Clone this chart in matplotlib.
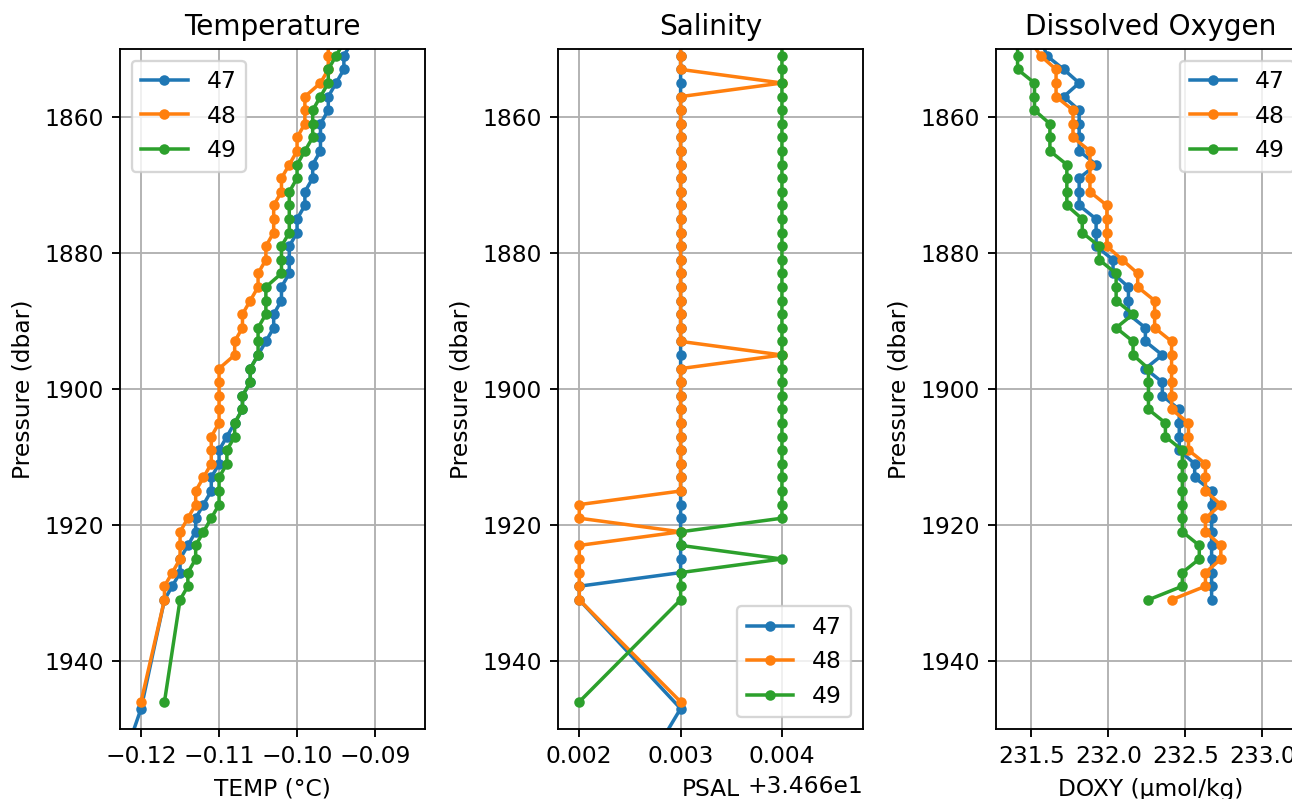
import matplotlib
matplotlib.use("Agg")
import matplotlib.pyplot as plt
from matplotlib.ticker import MultipleLocator
import numpy as np

# pressure levels (dbar) shared by the three profiles, plus one level above the view
pres_common = [1849, 1851, 1853, 1855, 1857, 1859, 1861, 1863, 1865, 1867, 1869,
               1871, 1873, 1875, 1877, 1879, 1881, 1883, 1885, 1887, 1889,
               1891, 1893, 1895, 1897, 1899, 1901, 1903, 1905, 1907, 1909,
               1911, 1913, 1915, 1917, 1919, 1921, 1923, 1925, 1927, 1929, 1931]
pres_47 = pres_common + [1947, 1952]
pres_48 = pres_common + [1946]
pres_49 = pres_common + [1946]

temp_47 = [-0.093, -0.094, -0.094, -0.095, -0.096, -0.096, -0.097, -0.097, -0.097, -0.098, -0.098,
           -0.099, -0.099, -0.100, -0.100, -0.101, -0.101, -0.101, -0.102, -0.102, -0.103,
           -0.103, -0.104, -0.105, -0.106, -0.106, -0.107, -0.107, -0.108, -0.109, -0.110,
           -0.110, -0.111, -0.111, -0.112, -0.113, -0.113, -0.114, -0.115, -0.115, -0.116, -0.117,
           -0.120, -0.1215]
temp_48 = [-0.096, -0.096, -0.096, -0.097, -0.099, -0.099, -0.099, -0.100, -0.100, -0.101, -0.102,
           -0.102, -0.103, -0.103, -0.103, -0.104, -0.104, -0.105, -0.105, -0.106, -0.107,
           -0.107, -0.108, -0.108, -0.110, -0.110, -0.110, -0.110, -0.110, -0.111, -0.111,
           -0.111, -0.112, -0.113, -0.113, -0.114, -0.115, -0.115, -0.115, -0.116, -0.117, -0.117,
           -0.120]
temp_49 = [-0.094, -0.095, -0.096, -0.096, -0.097, -0.098, -0.098, -0.098, -0.099, -0.100, -0.100,
           -0.101, -0.101, -0.101, -0.101, -0.102, -0.102, -0.102, -0.104, -0.104, -0.104,
           -0.105, -0.105, -0.105, -0.106, -0.106, -0.107, -0.107, -0.108, -0.108, -0.109,
           -0.109, -0.110, -0.110, -0.110, -0.111, -0.112, -0.113, -0.113, -0.114, -0.114, -0.115,
           -0.117]

psal_47 = [34.663] * 40 + [34.662, 34.662, 34.663, 34.6628]
psal_48 = [34.663, 34.663, 34.663, 34.664, 34.663, 34.663, 34.663, 34.663, 34.663, 34.663, 34.663,
           34.663, 34.663, 34.663, 34.663, 34.663, 34.663, 34.663, 34.663, 34.663, 34.663,
           34.663, 34.663, 34.664, 34.663, 34.663, 34.663, 34.663, 34.663, 34.663, 34.663,
           34.663, 34.663, 34.663, 34.662, 34.662, 34.663, 34.662, 34.662, 34.662, 34.662, 34.662,
           34.663]
psal_49 = [34.664] * 36 + [34.663, 34.663, 34.664, 34.663, 34.663, 34.663, 34.662]

doxy_47 = [231.57, 231.60, 231.71, 231.81, 231.71, 231.81, 231.81, 231.81, 231.81, 231.92, 231.81,
           231.81, 231.81, 231.92, 231.92, 231.92, 232.03, 232.03, 232.13, 232.13, 232.13,
           232.24, 232.24, 232.35, 232.24, 232.35, 232.35, 232.46, 232.46, 232.46, 232.46,
           232.56, 232.56, 232.67, 232.67, 232.67, 232.67, 232.67, 232.67, 232.67, 232.67, 232.67,
           np.nan, np.nan]
doxy_48 = [231.50, 231.56, 231.66, 231.66, 231.66, 231.77, 231.77, 231.77, 231.88, 231.88, 231.88,
           231.88, 231.99, 231.99, 231.99, 231.99, 232.09, 232.19, 232.19, 232.30, 232.30,
           232.30, 232.41, 232.41, 232.41, 232.41, 232.41, 232.41, 232.52, 232.52, 232.52,
           232.63, 232.63, 232.63, 232.73, 232.63, 232.63, 232.73, 232.73, 232.63, 232.63, 232.41,
           np.nan]
doxy_49 = [231.41, 231.41, 231.41, 231.52, 231.52, 231.52, 231.62, 231.62, 231.62, 231.73, 231.73,
           231.73, 231.73, 231.83, 231.83, 231.94, 231.94, 232.05, 232.05, 232.05, 232.16,
           232.05, 232.16, 232.16, 232.26, 232.26, 232.26, 232.26, 232.37, 232.37, 232.48,
           232.48, 232.48, 232.48, 232.48, 232.48, 232.48, 232.59, 232.59, 232.48, 232.48, 232.26,
           np.nan]

profiles = ['47', '48', '49']
pres = [pres_47, pres_48, pres_49]

# title, x label, series, x limits, x tick step, legend location, left edge (px), width (px)
panels = [
    ("Temperature", "TEMP (°C)", [temp_47, temp_48, temp_49], (-0.1227, -0.0836), 0.01, "upper left", 120, 305),
    ("Salinity", "PSAL", [psal_47, psal_48, psal_49], (34.66179, 34.6648), 0.001, "lower right", 558, 305),
    ("Dissolved Oxygen", "DOXY (µmol/kg)", [doxy_47, doxy_48, doxy_49], (231.27, 233.283), 0.5, "upper right", 996, 310),
]

DPI = 168
fig = plt.figure(figsize=(1292 / DPI, 799 / DPI), dpi=DPI)

for title, xlab, series, xlim, step, loc, left, width in panels:
    ax = fig.add_axes([left / 1292, 70 / 799, width / 1292, 680 / 799])
    for name, p, vals in zip(profiles, pres, series):
        ax.plot(vals, p, marker='o', markersize=3.5, label=name)
    ax.set_xlim(*xlim)
    ax.xaxis.set_major_locator(MultipleLocator(step))
    ax.set_ylim(1950, 1850)
    ax.set_title(title)
    ax.set_xlabel(xlab)
    ax.set_ylabel("Pressure (dbar)")
    ax.grid(True)
    ax.legend(loc=loc)

fig.savefig("out.png", dpi=DPI)
